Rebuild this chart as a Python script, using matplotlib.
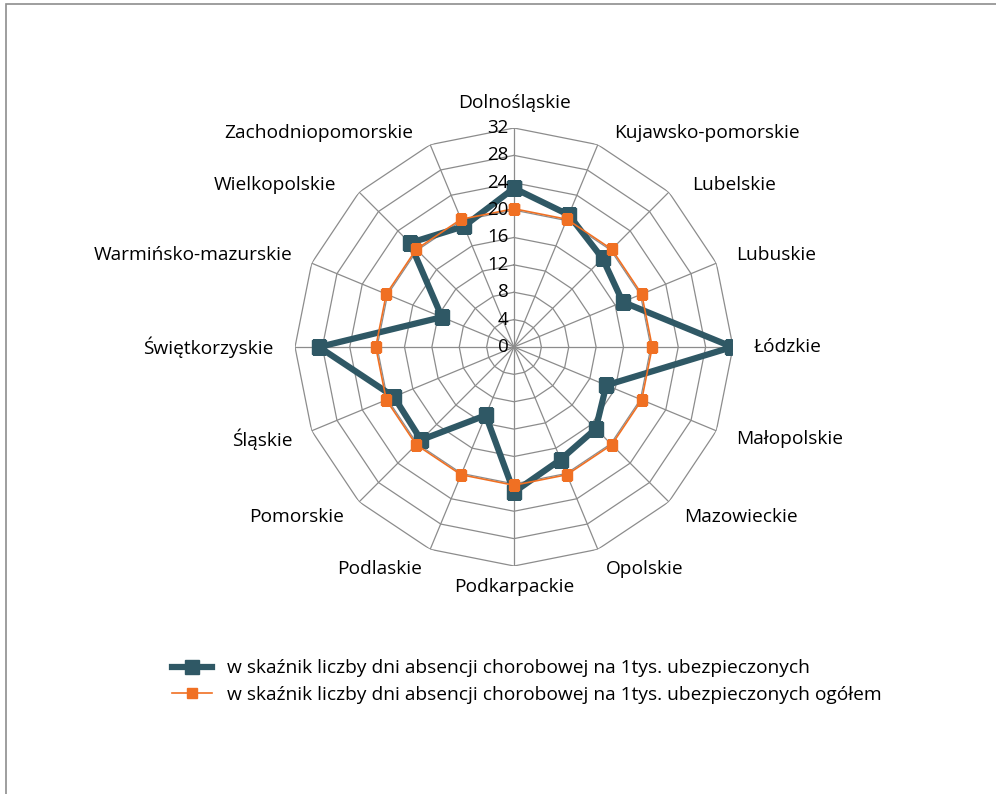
import numpy as np
import matplotlib.pyplot as plt
from matplotlib.patches import Rectangle

plt.rcParams['font.family'] = ['Open Sans', 'DejaVu Sans']

regions = ['Dolnośląskie', 'Kujawsko-pomorskie', 'Lubelskie', 'Lubuskie', 'Łódzkie',
           'Małopolskie', 'Mazowieckie', 'Opolskie', 'Podkarpackie', 'Podlaskie',
           'Pomorskie', 'Śląskie', 'Świętkorzyskie', 'Warmińsko-mazurskie',
           'Wielkopolskie', 'Zachodniopomorskie']
wskaznik = [23.2, 20.9, 18.3, 17.2, 31.9, 14.6, 16.9, 17.8,
            21.2, 10.8, 19.2, 19.0, 28.5, 11.4, 21.5, 19.1]
ogolem = [20.2] * 16
rticks = [0, 4, 8, 12, 16, 20, 24, 28, 32]
labels = ['w skaźnik liczby dni absencji chorobowej na 1tys. ubezpieczonych',
          'w skaźnik liczby dni absencji chorobowej na 1tys. ubezpieczonych ogółem']

W, H = 996, 794
fig = plt.figure(figsize=(W / 100, H / 100), dpi=100)
fig.add_artist(Rectangle((6 / W, -0.1), 1.2, 1 - 4 / H + 0.1, transform=fig.transFigure,
                         fill=False, edgecolor='#8e8e8e', lw=1.2))

cx, cy, R = 514, 347, 219
ax = fig.add_axes([(cx - R) / W, (H - cy - R) / H, 2 * R / W, 2 * R / H], projection='polar')
ax.set_theta_zero_location('N')
ax.set_theta_direction(-1)
ax.set_ylim(0, 32)
ax.grid(False)
ax.set_xticks([])
ax.set_yticks([])
ax.spines['polar'].set_visible(False)
ax.patch.set_alpha(0)

n = len(regions)
theta = np.arange(n) * 2 * np.pi / n
closed = np.append(theta, theta[0])

# polygon grid + spokes
for r in rticks[1:]:
    ax.plot(closed, [r] * (n + 1), color='#8c8c8c', lw=0.9, zorder=1)
for t in theta:
    ax.plot([t, t], [0, 32], color='#8c8c8c', lw=0.9, zorder=1)

ax.plot(closed, wskaznik + wskaznik[:1], color='#2f5865', lw=4.5, marker='s',
        markersize=10, zorder=3, label=labels[0])
ax.plot(closed, ogolem + ogolem[:1], color='#f07023', lw=1.2, marker='s',
        markersize=6.5, zorder=4, label=labels[1])

for r in rticks:
    ax.annotate(str(r), (0, r), xytext=(-4, 0), textcoords='offset points',
                ha='right', va='center', fontsize=13.5, zorder=5,
                annotation_clip=False)

# category labels around the outer ring, roughly like Excel places them
for t, name in zip(theta, regions):
    s, c = np.sin(t), np.cos(t)
    ha = 'center' if abs(s) < 0.01 else ('left' if s > 0 else 'right')
    if c > 0.99:
        rr, off = 35.7, (0, 0)
    elif c > 0.5:
        rr, off = 35.1, (6 * np.sign(s), -5.5)
    else:
        rr, off = 35.1, (0, 0)
    ax.annotate(name, (t, rr), xytext=off, textcoords='offset points',
                ha=ha, va='center', fontsize=13.8, annotation_clip=False)

fig.legend(loc='center', bbox_to_anchor=(0.529, 0.1415), frameon=False, fontsize=13.8,
           handlelength=2.1, handletextpad=0.8, labelspacing=0.45)

fig.savefig('out.png', dpi=100)
